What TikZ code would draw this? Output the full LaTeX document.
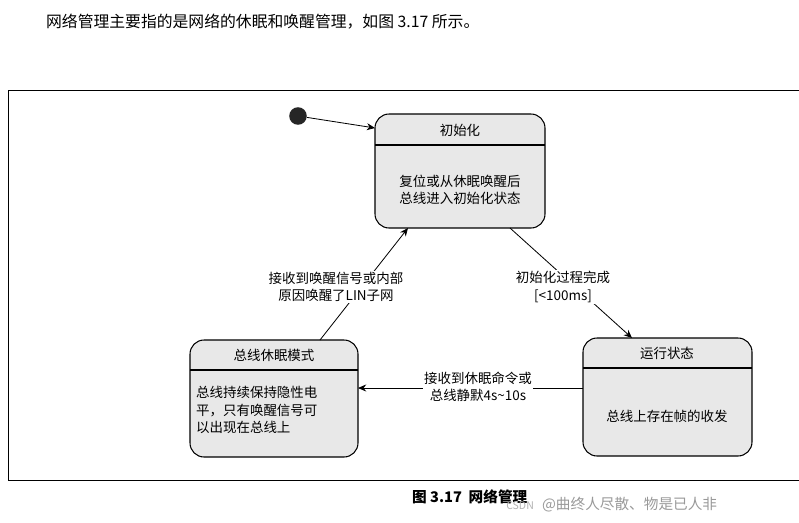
\documentclass[tikz,border=0pt]{standalone}
\usepackage{fontspec}
\setmainfont{Liberation Sans}
\newfontfamily\cjk{Noto Sans CJK SC}
\usetikzlibrary{arrows.meta}
\begin{document}
\begin{tikzpicture}[x=0.03cm,y=-0.03cm,
  st/.style={draw,line width=0.9pt,rounded corners=12pt,fill=gray!18},
  tx/.style={font=\cjk\fontsize{11.5pt}{15pt}\selectfont,align=center},
  arr/.style={-{Stealth[length=7pt,width=6pt]},line width=0.7pt}]
\useasboundingbox (0,0) rectangle (799,522);
\node[anchor=west,font=\cjk\fontsize{13.5pt}{15pt}\selectfont] (intro) at (42,22) {网络管理主要指的是网络的休眠和唤醒管理，如图 3.17 所示。};
\draw[line width=0.6pt] (8,90) rectangle (799,480);
\node[circle,fill=black!85,minimum size=15pt,inner sep=0] (start) at (298,116) {};
% init
\draw[st] (375,114) rectangle (545,228);
\draw[line width=0.9pt] (375,145) -- (545,145);
\coordinate (initL) at (375,128);
\node[tx] (initT) at (460,130) {初始化};
\node[tx] (initB) at (460,190) {复位或从休眠唤醒后\\总线进入初始化状态};
% run
\draw[st] (583,338) rectangle (752,456);
\draw[line width=0.9pt] (583,368) -- (752,368);
\node[tx] (runT) at (667,353) {运行状态};
\node[tx] (runB) at (667,416) {总线上存在帧的收发};
% sleep
\draw[st] (190,340) rectangle (358,457);
\draw[line width=0.9pt] (190,370) -- (358,370);
\node[tx] (slT) at (274,355) {总线休眠模式};
\node[tx,align=left,anchor=north west] (slB) at (192,382) {总线持续保持隐性电\\平，只有唤醒信号可\\以出现在总线上};
% arrows
\coordinate (a1) at (510,228); \coordinate (a2) at (632,338);
\coordinate (b1) at (583,388); \coordinate (b2) at (358,388);
\coordinate (c1) at (320,340); \coordinate (c2) at (408,228);
\draw[arr] (start) -- (initL);
\draw[arr] (a1) -- (a2);
\draw[arr] (b1) -- (b2);
\draw[arr] (c1) -- (c2);
\node[tx,fill=white,inner sep=1pt] (la) at (563,287) {初始化过程完成\\{[<100ms]}};
\node[tx,fill=white,inner sep=1pt] (lb) at (478,387) {接收到休眠命令或\\总线静默4s\textasciitilde10s};
\node[tx,fill=white,inner sep=1pt] (lc) at (336,287) {接收到唤醒信号或内部\\原因唤醒了LIN子网};
\node[font=\cjk\bfseries\fontsize{12.5pt}{14pt}\selectfont,anchor=west] (cap) at (408,497) {图 3.17\ \ 网络管理};
\node[font=\cjk\fontsize{12.5pt}{14pt}\selectfont,text=gray!80,anchor=west] (wm) at (538,505) {@曲终人尽散、物是已人非};
\node[font=\cjk\fontsize{9pt}{10pt}\selectfont,text=gray!60,anchor=east] (wm2) at (538,506) {CSDN};
\end{tikzpicture}
\end{document}
